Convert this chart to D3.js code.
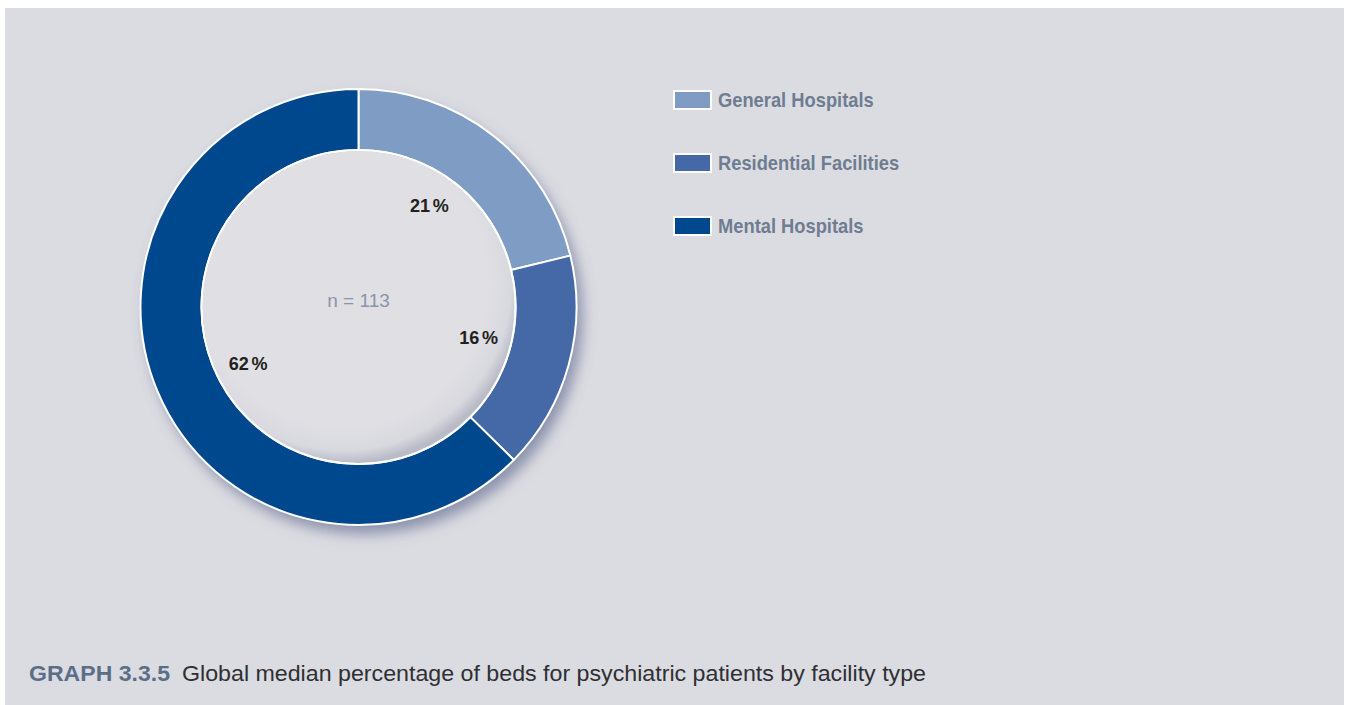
<!DOCTYPE html>
<html>
<head>
<meta charset="utf-8">
<script src="https://cdn.jsdelivr.net/npm/d3@7"></script>
<style>
  html, body { margin: 0; padding: 0; background: #ffffff; }
  svg { display: block; }
</style>
</head>
<body>
<svg id="chart" width="1351" height="705"></svg>
<script>
// Facility types and median bed shares (%)
const categories = ["General Hospitals", "Residential Facilities", "Mental Hospitals"];
const shares = [21, 16, 62];
const colors = ["#7f9cc5", "#4569a7", "#00488d"];
const sampleLabel = "n = 113";
const captionTag = "GRAPH 3.3.5";
const captionText = "Global median percentage of beds for psychiatric patients by facility type";

const svg = d3.select("#chart");
const W = 1351, H = 705;

// Panel background
svg.append("rect")
  .attr("x", 5).attr("y", 8)
  .attr("width", 1339).attr("height", H - 8)
  .attr("fill", "#dbdce1");

const defs = svg.append("defs");

// Soft drop shadow under the ring
const shadow = defs.append("filter").attr("id", "ringShadow")
  .attr("x", "-20%").attr("y", "-20%").attr("width", "140%").attr("height", "140%");
shadow.append("feGaussianBlur").attr("in", "SourceAlpha").attr("stdDeviation", 7).attr("result", "blur");
shadow.append("feOffset").attr("in", "blur").attr("dx", 6).attr("dy", 9).attr("result", "off");
shadow.append("feFlood").attr("flood-color", "#56608a").attr("flood-opacity", 0.6).attr("result", "col");
shadow.append("feComposite").attr("in", "col").attr("in2", "off").attr("operator", "in").attr("result", "sh");
const merge = shadow.append("feMerge");
merge.append("feMergeNode").attr("in", "sh");
merge.append("feMergeNode").attr("in", "SourceGraphic");

// Inner shading of the hole
const holeGrad = defs.append("radialGradient").attr("id", "holeGrad")
  .attr("cx", "45%").attr("cy", "42%").attr("r", "58%");
holeGrad.append("stop").attr("offset", "80%").attr("stop-color", "#dfdfe4");
holeGrad.append("stop").attr("offset", "93%").attr("stop-color", "#d8d8df");
holeGrad.append("stop").attr("offset", "100%").attr("stop-color", "#b9bcc8");

const cx = 358.5, cy = 307;
const outerR = 218, innerR = 157;

const pie = d3.pie().sort(null).value(d => d)(shares);
const arc = d3.arc().innerRadius(innerR).outerRadius(outerR);

const ring = svg.append("g").attr("transform", `translate(${cx},${cy})`);

// Shadowed base ring
ring.append("path")
  .attr("d", d3.arc().innerRadius(innerR).outerRadius(outerR).startAngle(0).endAngle(2 * Math.PI)())
  .attr("fill", "#00488d")
  .attr("filter", "url(#ringShadow)");

ring.selectAll("path.slice")
  .data(pie)
  .join("path")
  .attr("class", "slice")
  .attr("d", arc)
  .attr("fill", (d, i) => colors[i])
  .attr("stroke", "#ffffff")
  .attr("stroke-width", 2)
  .attr("stroke-linejoin", "round");

// Hole with its inner shading
ring.append("circle")
  .attr("r", innerR - 1)
  .attr("fill", "url(#holeGrad)");
ring.append("circle")
  .attr("r", innerR)
  .attr("fill", "none")
  .attr("stroke", "#ffffff")
  .attr("stroke-width", 2);

// Percentage labels inside the hole, near each slice's mid-angle
const labelRadius = 124;
const labelAngleShift = [-0.058, -0.02, -0.077]; // radians
const labelFont = "'Liberation Sans', Arial, sans-serif";
const pct = ring.selectAll("text.pct")
  .data(pie)
  .join("text")
  .attr("class", "pct")
  .attr("transform", (d, i) => {
    const a = (d.startAngle + d.endAngle) / 2 + labelAngleShift[i];
    return `translate(${Math.sin(a) * labelRadius},${-Math.cos(a) * labelRadius}) scale(0.95,1)`;
  })
  .attr("text-anchor", "middle")
  .attr("dy", "0.35em")
  .attr("font-family", labelFont)
  .attr("font-weight", "bold")
  .attr("font-size", 19)
  .attr("fill", "#231f20");
pct.append("tspan").text(d => d.data);
pct.append("tspan").attr("dx", 3).text("%");

ring.append("text")
  .attr("x", 0).attr("y", -7)
  .attr("text-anchor", "middle")
  .attr("dy", "0.35em")
  .attr("font-family", labelFont)
  .attr("font-size", 19)
  .attr("fill", "#8b95a8")
  .text(sampleLabel);

// Legend
const legend = svg.append("g").attr("transform", "translate(673,90)");
const row = legend.selectAll("g.item")
  .data(categories)
  .join("g")
  .attr("class", "item")
  .attr("transform", (d, i) => `translate(0,${i * 63})`);
row.append("rect")
  .attr("x", 1).attr("y", 1)
  .attr("width", 37).attr("height", 18)
  .attr("fill", (d, i) => colors[i])
  .attr("stroke", "#ffffff")
  .attr("stroke-width", 2);
row.append("text")
  .attr("transform", "translate(45,10) scale(0.94,1)")
  .attr("dy", "0.35em")
  .attr("font-family", labelFont)
  .attr("font-weight", "bold")
  .attr("font-size", 19.5)
  .attr("fill", "#6f7c91")
  .text(d => d);

// Caption
const cap = svg.append("text")
  .attr("x", 29).attr("y", 681)
  .attr("font-family", "'Liberation Sans', Arial, sans-serif")
  .attr("font-size", 22);
cap.append("tspan")
  .attr("fill", "#5b6e87")
  .attr("font-weight", "bold")
  .attr("textLength", 141)
  .attr("lengthAdjust", "spacingAndGlyphs")
  .text(captionTag);
cap.append("tspan")
  .attr("x", 182)
  .attr("fill", "#2f2f33")
  .attr("textLength", 744)
  .attr("lengthAdjust", "spacingAndGlyphs")
  .text(captionText);
</script>
</body>
</html>
